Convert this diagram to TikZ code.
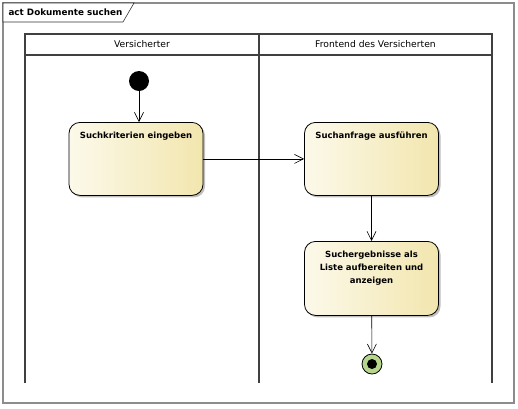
\documentclass[tikz,border=0pt]{standalone}
\usepackage{fontspec}
\setmainfont{DejaVu Sans}
\usetikzlibrary{positioning, arrows.meta, shadows}
\definecolor{actlight}{HTML}{FCF9EA}
\definecolor{actdark}{HTML}{F2E6AE}
\definecolor{endgreen}{HTML}{B5D68C}
\definecolor{framegray}{HTML}{8C8C8C}
\tikzset{
x=1pt, y=-1pt,
flow/.style={-{Straight Barb[length=9pt,width=9pt]}, line width=0.6pt}, % open arrow heads
lane/.style={line width=1.3pt, draw=black!75},
lanehead/.style={font=\fontsize{9.2}{11}\selectfont},
action/.style={draw, line width=0.8pt, rounded corners=11pt, minimum width=134pt,
  left color=actlight, right color=actdark,
  drop shadow={shadow xshift=2pt, shadow yshift=-2pt, fill=black!25, opacity=1},
  font=\bfseries\fontsize{8.5}{13}\selectfont, align=center,
  text height=7pt, text depth=47pt, inner ysep=9.5pt, anchor=north},
}

\begin{document}
\begin{tikzpicture}
  \useasboundingbox (0,0) rectangle (518,408);
  % frame
  \draw[framegray, line width=1.2pt] (3,3) rectangle (514,403);
  \draw[black!80, line width=0.6pt, fill=white] (3,3) -- (134,3) -- (123,22) -- (3,22) -- cycle;
  \node[anchor=west, font=\fontsize{8.8}{10}\selectfont\bfseries] (title) at (5,12.5) {act Dokumente suchen};

  % swimlanes
  \draw[lane] (25,383) -- (25,34) -- (492,34) -- (492,383);
  \draw[lane] (259,34) -- (259,383);
  \draw[lane] (25,55) -- (492,55);
  \node[lanehead] (lane1) at (142,44.5) {Versicherter};
  \node[lanehead] (lane2) at (375.5,44.5) {Frontend des Versicherten};

  % nodes
  \node[circle, fill=black, minimum size=20pt, inner sep=0pt] (start) at (139,81) {};
  \node[action] (eingeben) at (136,122) {Suchkriterien eingeben};
  \node[action] (anfrage) at (371.5,122) {Suchanfrage ausführen};
  \node[action, text height=33pt, text depth=22pt] (ergebnis) at (371.5,241)
    {Suchergebnisse als\\Liste aufbereiten und\\anzeigen};
  \node[circle, draw, line width=0.8pt, fill=endgreen, minimum size=20pt, inner sep=0pt] (ende) at (372,364) {};
  \fill (ende.center) circle (5pt);

  % edges
  \draw[flow] (start) -- (start |- eingeben.north);
  \draw[flow] (eingeben) -- (anfrage);
  \draw[flow] (anfrage) -- (ergebnis);
  \draw[flow] (ergebnis) -- (ende);
\end{tikzpicture}
\end{document}
